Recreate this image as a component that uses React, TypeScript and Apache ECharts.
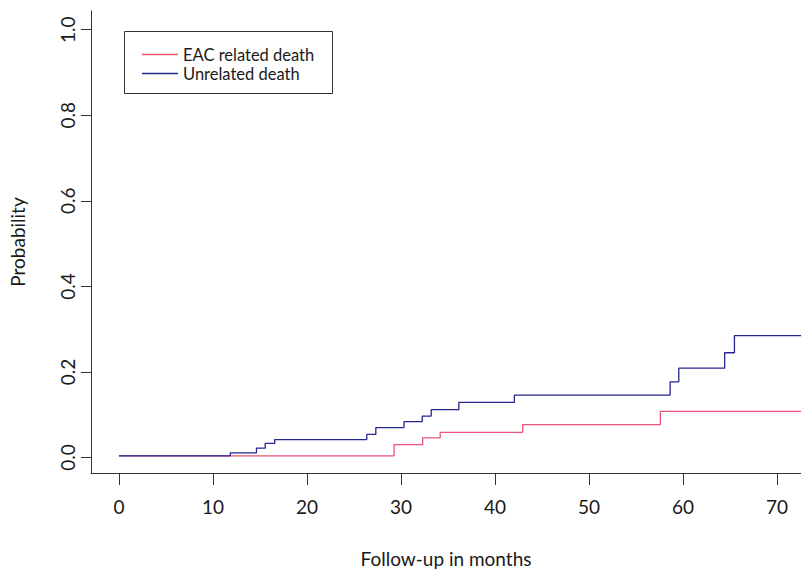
import React, { useEffect, useRef } from "react";
import * as echarts from "echarts";

const seriesNames = ["EAC related death", "Unrelated death"];
const timesEAC = [0, 29.27, 32.31, 34.18, 42.95, 57.6, 72.75];
const probEAC = [0.004, 0.03, 0.046, 0.059, 0.077, 0.108, 0.108];
const timesUnrel = [0, 11.85, 14.63, 15.56, 16.57, 26.37, 27.33, 30.33, 32.27, 33.22, 36.16, 42.07, 58.64, 59.56, 64.44, 65.48, 72.75];
const probUnrel = [0.004, 0.011, 0.022, 0.033, 0.042, 0.054, 0.07, 0.084, 0.097, 0.112, 0.129, 0.146, 0.177, 0.209, 0.245, 0.285, 0.285];
const xTicks = [0, 10, 20, 30, 40, 50, 60, 70];
const yTicks = [0, 0.2, 0.4, 0.6, 0.8, 1.0];

const FONT = "Lato";
const TEXT = "#1a1a1a";
const AXIS = "#333";

export default function App() {
  const ref = useRef<HTMLDivElement>(null);
  useEffect(() => {
    if (!ref.current) return;
    const chart = echarts.init(ref.current, null, { renderer: "svg" });
    const pairs = (t: number[], v: number[]) => t.map((x, i) => [x, v[i]]);
    chart.setOption({
      animation: false,
      backgroundColor: "#fff",
      textStyle: { fontFamily: FONT },
      grid: { left: 88, right: 0, top: 11, bottom: 93, containLabel: false },
      xAxis: {
        type: "value",
        min: -2.97,
        max: 72.56,
        axisLine: { show: true, onZero: false, lineStyle: { color: AXIS, width: 1 } },
        axisTick: { show: true, length: 12, customValues: xTicks, lineStyle: { color: AXIS, width: 1 } },
        splitLine: { show: false },
        axisLabel: {
          fontSize: 19,
          fontFamily: FONT,
          color: TEXT,
          margin: 24,
          customValues: xTicks,
          formatter: (v: number) => String(v),
        },
        name: "Follow-up in months",
        nameLocation: "middle",
        nameGap: 76,
        nameTextStyle: { fontSize: 19, fontFamily: FONT, color: TEXT },
      },
      yAxis: {
        type: "value",
        min: -0.0361,
        max: 1.0437,
        axisLine: { show: true, onZero: false, lineStyle: { color: AXIS, width: 1 } },
        axisTick: { show: true, length: 10, customValues: yTicks, lineStyle: { color: AXIS, width: 1 } },
        splitLine: { show: false },
        axisLabel: {
          fontSize: 19,
          fontFamily: FONT,
          color: TEXT,
          rotate: 90,
          margin: 14,
          customValues: yTicks,
          formatter: (v: number) => v.toFixed(1),
        },
        name: "Probability",
        nameLocation: "middle",
        nameRotate: 90,
        nameGap: 64,
        nameTextStyle: { fontSize: 19, fontFamily: FONT, color: TEXT },
      },
      legend: {
        orient: "vertical",
        left: 137,
        top: 41,
        itemWidth: 36,
        itemHeight: 1.5,
        itemGap: 2,
        icon: "rect",
        data: seriesNames,
        textStyle: { fontSize: 16.5, fontFamily: FONT, color: TEXT, lineHeight: 17 },
      },
      graphic: [
        { type: "rect", shape: { x: 124.5, y: 31.5, width: 208, height: 62 }, style: { fill: "none", stroke: AXIS, lineWidth: 1 } },
      ],
      series: [
        {
          name: seriesNames[0],
          type: "line",
          step: "end",
          symbol: "none",
          data: pairs(timesEAC, probEAC),
          lineStyle: { color: "#EA5478", width: 1.3 },
          itemStyle: { color: "#EA5478" },
        },
        {
          name: seriesNames[1],
          type: "line",
          step: "end",
          symbol: "none",
          data: pairs(timesUnrel, probUnrel),
          lineStyle: { color: "#25258F", width: 1.3 },
          itemStyle: { color: "#25258F" },
        },
      ],
    });
    return () => chart.dispose();
  }, []);
  return <div ref={ref} style={{ position: "fixed", left: 0, top: 0, width: 801, height: 573 }} />;
}
